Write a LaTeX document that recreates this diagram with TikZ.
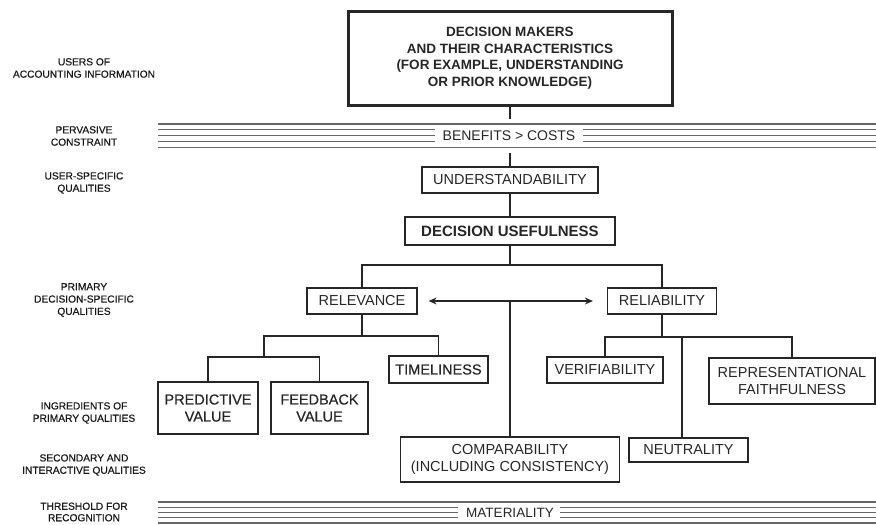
\documentclass[tikz,border=0pt]{standalone}
\usepackage{fontspec}
\setmainfont{Liberation Sans}
\newfontfamily\medfont[FakeBold=0.6]{Liberation Sans}
\usetikzlibrary{arrows.meta,calc}

\begin{document}
\begin{tikzpicture}[x=1pt, y=-1pt,
    box/.style={draw=black!85, line width=1.2pt, inner sep=0pt, align=center, text=black!85, font=\fontsize{14.5}{17}\selectfont},
    thickbox/.style={box, line width=3pt, font=\fontsize{13.5}{16.5}\selectfont\bfseries},
    medbox/.style={box, font=\medfont\fontsize{14.5}{17}\selectfont},
    side/.style={align=center, text=black!90, font=\medfont\fontsize{10.2}{12.3}\selectfont},
    bandtext/.style={text=black!85, font=\fontsize{14}{16}\selectfont},
    band/.style={black!60, line width=1.1pt},
    link/.style={draw=black!85, line width=1.2pt},
    tip/.style={{Stealth[length=8pt,width=7pt]}-{Stealth[length=8pt,width=7pt]}}
]
\useasboundingbox (0,0) rectangle (876,525);

% row labels
\node[side] (lusers) at (84,68) {USERS OF\\ACCOUNTING INFORMATION};
\node[side] (lpervasive) at (84,136) {PERVASIVE\\CONSTRAINT};
\node[side] (luserspec) at (84,183) {USER-SPECIFIC\\QUALITIES};
\node[side] (lprimary) at (84,300) {PRIMARY\\DECISION-SPECIFIC\\QUALITIES};
\node[side] (lingredients) at (84,413) {INGREDIENTS OF\\PRIMARY QUALITIES};
\node[side] (lsecondary) at (84,465) {SECONDARY AND\\INTERACTIVE QUALITIES};
\node[side, font=\medfont\fontsize{10.2}{11.5}\selectfont] (lthreshold) at (84,512) {THRESHOLD FOR\\RECOGNITION};

% bands
\foreach \i in {0,4} {
    \draw[band] (158,124+5.8*\i) -- (876,124+5.8*\i);
    \draw[band] (158,502+5.25*\i) -- (876,502+5.25*\i);
}
\foreach \i in {1,2,3} {
    \draw[band] (158,124+5.8*\i) -- (435,124+5.8*\i) (583,124+5.8*\i) -- (876,124+5.8*\i);
    \draw[band] (158,502+5.25*\i) -- (458,502+5.25*\i) (560,502+5.25*\i) -- (876,502+5.25*\i);
}
\node[bandtext] (bencost) at (509,136) {BENEFITS > COSTS};
\node[bandtext, font=\fontsize{13.5}{16}\selectfont] (materiality) at (510,513) {MATERIALITY};

% boxes
\node[thickbox, minimum width=324pt, minimum height=94pt] (dm) at (510,58)
    {DECISION MAKERS\\AND THEIR CHARACTERISTICS\\(FOR EXAMPLE, UNDERSTANDING\\OR PRIOR KNOWLEDGE)};
\node[box, minimum width=176pt, minimum height=26pt] (und) at (510,180) {UNDERSTANDABILITY};
\node[thickbox, line width=2.6pt, minimum width=210pt, minimum height=28pt,
    font=\fontsize{15}{17}\selectfont\bfseries] (du) at (510,231) {DECISION USEFULNESS};
\node[box, minimum width=110pt, minimum height=26pt] (rel) at (362,301) {RELEVANCE};
\node[box, minimum width=109pt, minimum height=26pt] (rlb) at (662,301) {RELIABILITY};
\node[medbox, minimum width=100pt, minimum height=52pt] (pv) at (208,408) {PREDICTIVE\\VALUE};
\node[medbox, minimum width=97pt, minimum height=52pt] (fb) at (319.5,408) {FEEDBACK\\VALUE};
\node[medbox, minimum width=99pt, minimum height=27pt] (tim) at (438.5,369.5) {TIMELINESS};
\node[box, minimum width=116pt, minimum height=26pt] (ver) at (605,370) {VERIFIABILITY};
\node[box, minimum width=166pt, minimum height=46pt] (rep) at (792,381) {REPRESENTATIONAL\\FAITHFULNESS};
\node[box, minimum width=219pt, minimum height=45pt] (comp) at (510,459.5) {COMPARABILITY\\(INCLUDING CONSISTENCY)};
\node[box, minimum width=119pt, minimum height=24pt] (neu) at (688.5,450) {NEUTRALITY};

% connectors
\coordinate (split1) at (510,265);
\coordinate (split2) at (362,336);
\coordinate (split3) at (264,357);
\coordinate (split4) at (662,337);
\draw[link] (dm.south) -- ++(0,12);
\draw[link] (und.north) -- ++(0,-13);
\draw[link] (und.south) -- (du.north);
\draw[link] (du.south) -- (split1);
\draw[link] (rel.north) |- (split1) -| (rlb.north);
\draw[link, tip] ([xshift=11pt]rel.east) -- ([xshift=-14pt]rlb.west);
\draw[link] (comp.north) -- (comp.north |- rel.east);
\draw[link] (rel.south) -- (split2);
\draw[link] (split3) |- (split2) -| (tim.north);
\draw[link] (pv.north) |- (split3) -| (fb.north);
\draw[link] (rlb.south) -- (split4);
\draw[link] (ver.north) |- (split4) -| (rep.north);
\draw[link] ([xshift=-6.5pt]neu.north) -- ([xshift=-6.5pt]neu.north |- split4);
\end{tikzpicture}
\end{document}
